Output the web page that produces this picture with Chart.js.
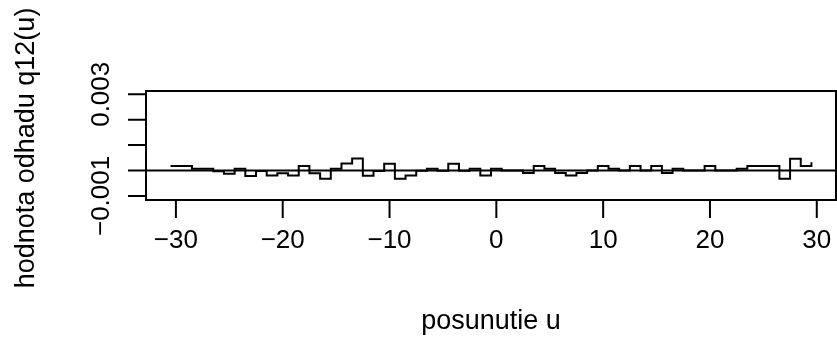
<!DOCTYPE html>
<html>
<head>
<meta charset="utf-8">
<script src="https://cdn.jsdelivr.net/npm/chart.js@4"></script>
<style>
    body { margin: 0; background: #fff; }
    canvas { display: block; }
</style>
</head>
<body>
<canvas id="q12Chart" width="837" height="342"></canvas>
<script>
// Lag positions (start of each step) and estimated q12(u) values
const lags = [
    -30.5, -29.5, -28.5, -27.5, -26.5, -25.5, -24.5, -23.5, -22.5, -21.5,
    -20.5, -19.5, -18.5, -17.5, -16.5, -15.5, -14.5, -13.5, -12.5, -11.5,
    -10.5, -9.5, -8.5, -7.5, -6.5, -5.5, -4.5, -3.5, -2.5, -1.5,
    -0.5, 0.5, 1.5, 2.5, 3.5, 4.5, 5.5, 6.5, 7.5, 8.5,
    9.5, 10.5, 11.5, 12.5, 13.5, 14.5, 15.5, 16.5, 17.5, 18.5,
    19.5, 20.5, 21.5, 22.5, 23.5, 24.5, 25.5, 26.5, 27.5, 28.5,
    29.5
];
const q12 = [
    0.00018, 0.00018, 0.00007, 0.00007, -0.00003, -0.00013, 0.00007, -0.00022, -0.00002, -0.00020,
    -0.00011, -0.00020, 0.00018, -0.00011, -0.00032, 0.00007, 0.00028, 0.00047, -0.00021, -0.00002,
    0.00027, -0.00032, -0.00020, -0.00001, 0.00007, -0.00001, 0.00027, -0.00001, 0.00007, -0.00020,
    0.00007, 0.00000, 0.00000, -0.00010, 0.00018, 0.00007, -0.00010, -0.00020, -0.00010, 0.00000,
    0.00018, 0.00007, 0.00000, 0.00018, 0.00000, 0.00018, -0.00010, 0.00007, 0.00000, 0.00000,
    0.00018, 0.00000, 0.00000, 0.00007, 0.00018, 0.00018, 0.00018, -0.00032, 0.00046, 0.00018,
    0.00033
];

const xTicks = [-30, -20, -10, 0, 10, 20, 30];
const xTickLabels = ['\u221230', '\u221220', '\u221210', '0', '10', '20', '30'];
const yTicks = [-0.001, 0, 0.001, 0.002, 0.003];
const yTickLabels = ['\u22120.001', '', '', '', '0.003'];
const xTitle = 'posunutie u';
const yTitle = 'hodnota odhadu q12(u)';

const xRange = [-32.8, 31.8];
const yRange = [-0.00116, 0.00313];

// R-style axes: box, outward ticks, rotated y labels
const rAxes = {
    id: 'rAxes',
    afterDraw(chart) {
        const ctx = chart.ctx;
        const area = chart.chartArea;
        const xs = chart.scales.x;
        const ys = chart.scales.y;
        ctx.save();
        ctx.strokeStyle = '#000';
        ctx.fillStyle = '#000';
        ctx.lineWidth = 2;
        ctx.strokeRect(area.left, area.top, area.right - area.left, area.bottom - area.top);

        ctx.beginPath();
        xTicks.forEach(v => {
            const px = xs.getPixelForValue(v);
            ctx.moveTo(px, area.bottom);
            ctx.lineTo(px, area.bottom + 18);
        });
        yTicks.forEach(v => {
            const py = ys.getPixelForValue(v);
            ctx.moveTo(area.left, py);
            ctx.lineTo(area.left - 18, py);
        });
        ctx.stroke();

        ctx.font = '26px "Liberation Sans", Arial, sans-serif';
        ctx.textAlign = 'center';
        ctx.textBaseline = 'middle';
        xTicks.forEach((v, i) => {
            ctx.fillText(xTickLabels[i], xs.getPixelForValue(v), 241);
        });

        yTicks.forEach((v, i) => {
            if (!yTickLabels[i]) return;
            ctx.save();
            ctx.translate(102, ys.getPixelForValue(v));
            ctx.rotate(-Math.PI / 2);
            ctx.fillText(yTickLabels[i], 0, 0);
            ctx.restore();
        });

        ctx.font = '27px "Liberation Sans", Arial, sans-serif';
        ctx.fillText(xTitle, (area.left + area.right) / 2, 322);
        ctx.save();
        ctx.translate(27, 148);
        ctx.rotate(-Math.PI / 2);
        ctx.fillText(yTitle, 0, 0);
        ctx.restore();
        ctx.restore();
    }
};

const ctx = document.getElementById('q12Chart').getContext('2d');
new Chart(ctx, {
    type: 'line',
    data: {
        datasets: [{
            label: 'q12(u)',
            data: lags.map((x, i) => ({ x: x, y: q12[i] })),
            borderColor: '#000',
            borderWidth: 2,
            stepped: true,
            pointRadius: 0,
            fill: false
        }, {
            label: 'zero',
            data: [{ x: xRange[0], y: 0 }, { x: xRange[1], y: 0 }],
            borderColor: '#000',
            borderWidth: 2,
            pointRadius: 0,
            fill: false
        }]
    },
    options: {
        responsive: false,
        animation: false,
        layout: {
            padding: { left: 146, top: 91, right: 1, bottom: 142 }
        },
        scales: {
            x: { type: 'linear', min: xRange[0], max: xRange[1], display: false },
            y: { type: 'linear', min: yRange[0], max: yRange[1], display: false }
        },
        plugins: {
            legend: { display: false },
            tooltip: { enabled: false }
        }
    },
    plugins: [rAxes]
});
</script>
</body>
</html>
